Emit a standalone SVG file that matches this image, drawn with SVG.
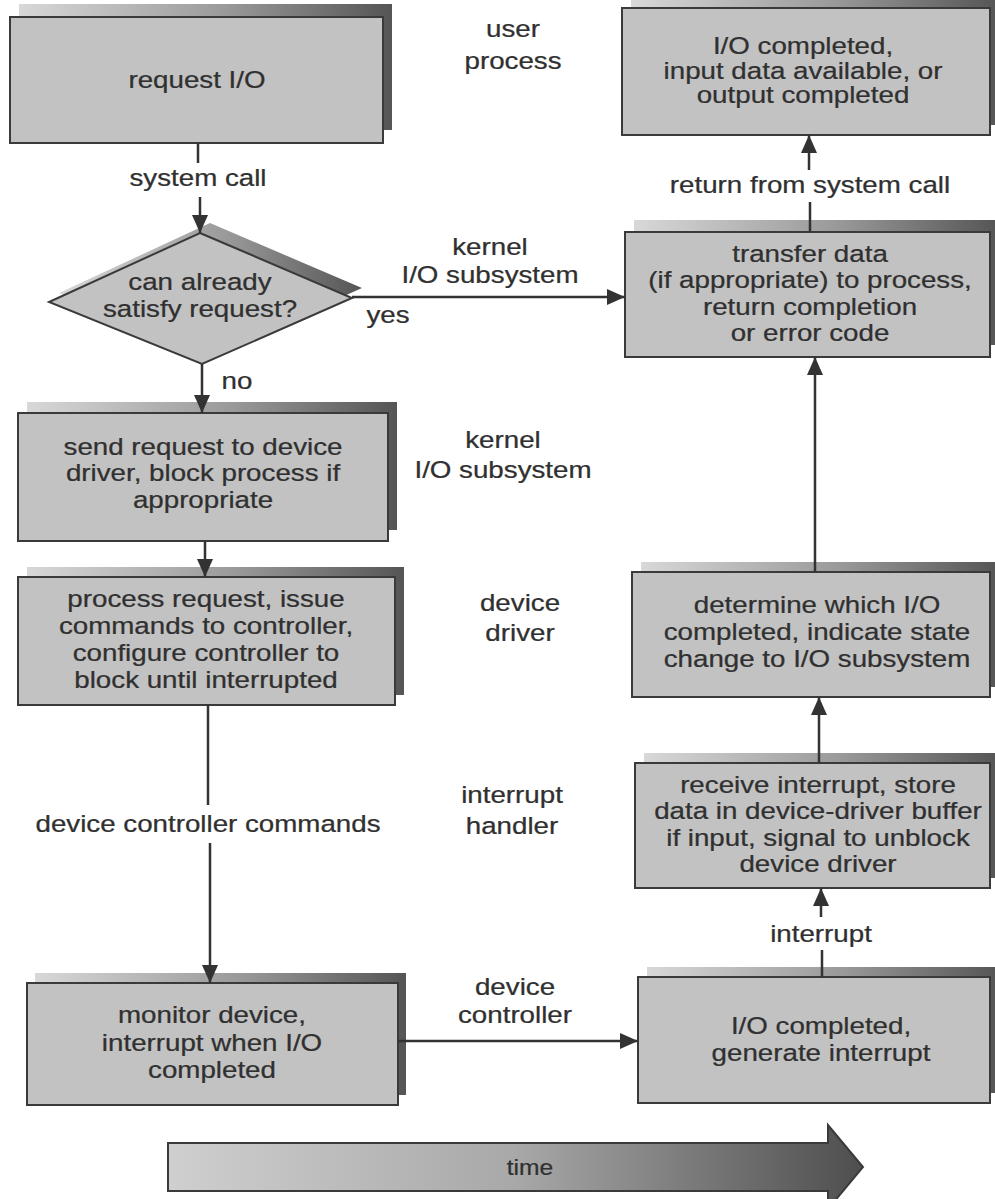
<svg xmlns="http://www.w3.org/2000/svg" width="995" height="1199" viewBox="0 0 995 1199">
  <defs>
    <linearGradient id="shade" x1="0" y1="0" x2="1" y2="0">
      <stop offset="0" stop-color="#d8d8d8"/>
      <stop offset="0.55" stop-color="#9a9a9a"/>
      <stop offset="1" stop-color="#555"/>
    </linearGradient>
    <linearGradient id="timeFill" x1="0" y1="0" x2="1" y2="0">
      <stop offset="0" stop-color="#cfcfcf"/>
      <stop offset="0.5" stop-color="#a8a8a8"/>
      <stop offset="1" stop-color="#4e4e4e"/>
    </linearGradient>
    <marker id="arrow" viewBox="0 0 18 16" refX="18" refY="8" markerWidth="18" markerHeight="16" markerUnits="userSpaceOnUse" orient="auto">
      <path d="M0,0 L18,8 L0,16 Z" fill="#333"/>
    </marker>
    <style>
      .box { fill: #c2c2c2; stroke: #3a3a3a; stroke-width: 2; }
      .shadow { fill: url(#shade); stroke: none; }
      .t { font-family: "Liberation Sans", Arial, Helvetica, sans-serif; font-size: 23.5px; fill: #303030; stroke: #303030; stroke-width: 0.25; text-anchor: middle; }
      .wire { fill: none; stroke: #333; stroke-width: 2.5; }
      .arr { marker-end: url(#arrow); }
    </style>
  </defs>

  <rect width="995" height="1199" fill="#ffffff"/>

  <!-- left column: process side -->
  <g id="request-io">
    <rect class="shadow" x="19" y="4" width="373" height="126"/>
    <rect class="box" x="10" y="17" width="373" height="126"/>
    <g transform="translate(197 0) scale(1.18 1)"><text class="t" y="88">request I/O</text></g>
  </g>

  <g id="can-satisfy">
    <polygon class="shadow" points="210,223 362,288 212,355 59,293"/>
    <polygon class="box" points="200,233 352,298 202,364 49,302"/>
    <g transform="translate(200 0) scale(1.18 1)">
      <text class="t" y="290">can already</text>
      <text class="t" y="317">satisfy request?</text>
    </g>
  </g>

  <g id="send-request">
    <rect class="shadow" x="27" y="402" width="370" height="128"/>
    <rect class="box" x="18" y="413" width="370" height="128"/>
    <g transform="translate(203 0) scale(1.18 1)">
      <text class="t" y="455">send request to device</text>
      <text class="t" y="481.5">driver, block process if</text>
      <text class="t" y="508">appropriate</text>
    </g>
  </g>

  <g id="process-request">
    <rect class="shadow" x="27" y="567" width="377" height="128"/>
    <rect class="box" x="18" y="577" width="377" height="128"/>
    <g transform="translate(206 0) scale(1.18 1)">
      <text class="t" y="607">process request, issue</text>
      <text class="t" y="634">commands to controller,</text>
      <text class="t" y="661">configure controller to</text>
      <text class="t" y="688">block until interrupted</text>
    </g>
  </g>

  <g id="monitor-device">
    <rect class="shadow" x="35" y="973" width="371" height="122"/>
    <rect class="box" x="27" y="983" width="371" height="122"/>
    <g transform="translate(212 0) scale(1.18 1)">
      <text class="t" y="1023">monitor device,</text>
      <text class="t" y="1051">interrupt when I/O</text>
      <text class="t" y="1078">completed</text>
    </g>
  </g>

  <!-- right column: completion side -->
  <g id="io-completed-top">
    <rect class="shadow" x="631" y="-2" width="368" height="127"/>
    <rect class="box" x="622" y="8" width="368" height="127"/>
    <g transform="translate(803 0) scale(1.18 1)">
      <text class="t" y="54">I/O completed,</text>
      <text class="t" y="79">input data available, or</text>
      <text class="t" y="103">output completed</text>
    </g>
  </g>

  <g id="transfer-data">
    <rect class="shadow" x="634" y="220" width="365" height="125"/>
    <rect class="box" x="625" y="232" width="365" height="125"/>
    <g transform="translate(810 0) scale(1.18 1)">
      <text class="t" y="262">transfer data</text>
      <text class="t" y="288.5">(if appropriate) to process,</text>
      <text class="t" y="315">return completion</text>
      <text class="t" y="341.5">or error code</text>
    </g>
  </g>

  <g id="determine-io">
    <rect class="shadow" x="641" y="562" width="358" height="125"/>
    <rect class="box" x="632" y="572" width="358" height="125"/>
    <g transform="translate(817 0) scale(1.18 1)">
      <text class="t" y="613">determine which I/O</text>
      <text class="t" y="640">completed, indicate state</text>
      <text class="t" y="667">change to I/O subsystem</text>
    </g>
  </g>

  <g id="receive-interrupt">
    <rect class="shadow" x="644" y="753" width="355" height="125"/>
    <rect class="box" x="635" y="763" width="355" height="125"/>
    <g transform="translate(818 0) scale(1.18 1)">
      <text class="t" y="793">receive interrupt, store</text>
      <text class="t" y="819.5">data in device-driver buffer</text>
      <text class="t" y="846">if input, signal to unblock</text>
      <text class="t" y="872.5">device driver</text>
    </g>
  </g>

  <g id="io-completed-bottom">
    <rect class="shadow" x="647" y="967" width="352" height="126"/>
    <rect class="box" x="638" y="977" width="352" height="126"/>
    <g transform="translate(821 0) scale(1.18 1)">
      <text class="t" y="1034">I/O completed,</text>
      <text class="t" y="1061">generate interrupt</text>
    </g>
  </g>

  <!-- layer labels in the middle column -->
  <g id="layer-labels">
    <g transform="translate(513 0) scale(1.18 1)">
      <text class="t" y="37">user</text>
      <text class="t" y="69">process</text>
    </g>
    <g transform="translate(490 0) scale(1.18 1)">
      <text class="t" y="255">kernel</text>
      <text class="t" y="283">I/O subsystem</text>
    </g>
    <g transform="translate(503 0) scale(1.18 1)">
      <text class="t" y="448">kernel</text>
      <text class="t" y="478">I/O subsystem</text>
    </g>
    <g transform="translate(520 0) scale(1.18 1)">
      <text class="t" y="611">device</text>
      <text class="t" y="641">driver</text>
    </g>
    <g transform="translate(512 0) scale(1.18 1)">
      <text class="t" y="803">interrupt</text>
      <text class="t" y="834">handler</text>
    </g>
    <g transform="translate(515 0) scale(1.18 1)">
      <text class="t" y="995">device</text>
      <text class="t" y="1023">controller</text>
    </g>
  </g>

  <!-- connectors -->
  <g id="connectors">
    <line class="wire" x1="198" y1="143" x2="198" y2="163"/>
    <line class="wire arr" x1="200" y1="197" x2="200" y2="233"/>
    <line class="wire arr" x1="352" y1="297" x2="625" y2="297"/>
    <line class="wire arr" x1="202" y1="364" x2="202" y2="413"/>
    <line class="wire arr" x1="205" y1="541" x2="205" y2="577"/>
    <line class="wire" x1="208" y1="705" x2="208" y2="805"/>
    <line class="wire arr" x1="210" y1="843" x2="210" y2="983"/>
    <line class="wire arr" x1="398" y1="1041" x2="638" y2="1041"/>
    <line class="wire" x1="822" y1="977" x2="822" y2="950"/>
    <line class="wire arr" x1="821" y1="917" x2="821" y2="888"/>
    <line class="wire arr" x1="819" y1="763" x2="819" y2="697"/>
    <line class="wire arr" x1="815" y1="572" x2="815" y2="357"/>
    <line class="wire" x1="810" y1="232" x2="810" y2="202"/>
    <line class="wire arr" x1="809" y1="170" x2="809" y2="135"/>
  </g>

  <!-- connector labels -->
  <g id="connector-labels">
    <g transform="translate(198 0) scale(1.18 1)"><text class="t" y="186">system call</text></g>
    <g transform="translate(388 0) scale(1.18 1)"><text class="t" y="323">yes</text></g>
    <g transform="translate(237 0) scale(1.18 1)"><text class="t" y="389">no</text></g>
    <g transform="translate(208 0) scale(1.18 1)"><text class="t" y="832">device controller commands</text></g>
    <g transform="translate(821 0) scale(1.18 1)"><text class="t" y="942">interrupt</text></g>
    <g transform="translate(810 0) scale(1.18 1)"><text class="t" y="193">return from system call</text></g>
  </g>

  <!-- time axis -->
  <g id="time-axis">
    <polygon points="168,1143 828,1143 828,1125 863,1167 828,1209 828,1191 168,1191" fill="url(#timeFill)" stroke="#3a3a3a" stroke-width="2"/>
    <g transform="translate(530 0) scale(1.12 1)"><text class="t" y="1175" style="font-size:22px">time</text></g>
  </g>
</svg>
